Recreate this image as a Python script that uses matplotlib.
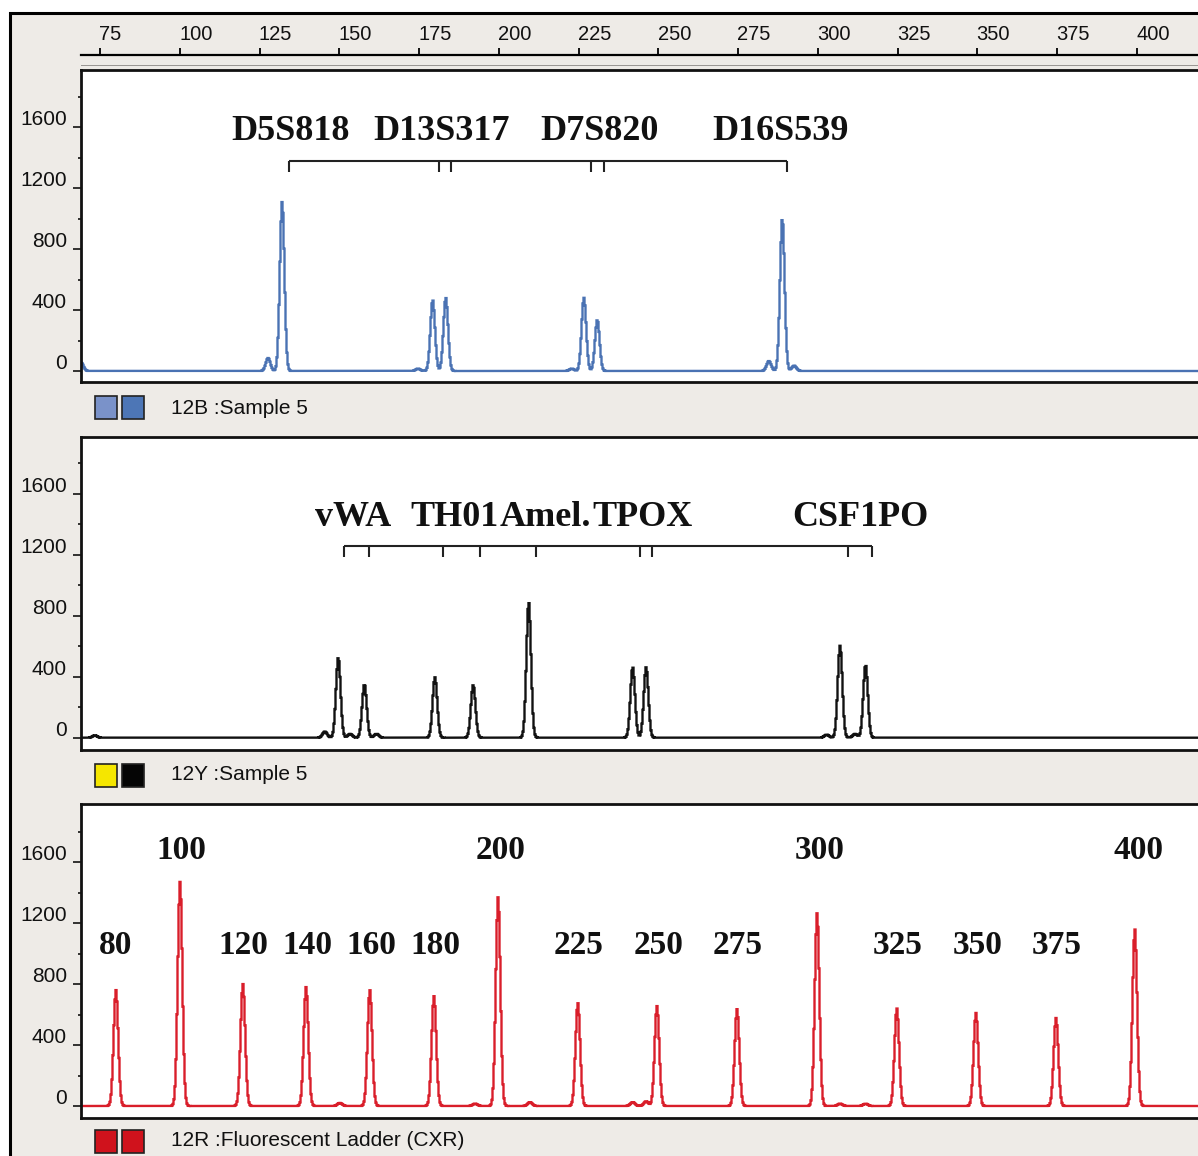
import numpy as np
import matplotlib
matplotlib.use("Agg")
import matplotlib.pyplot as plt
from matplotlib.patches import Rectangle
from matplotlib.transforms import offset_copy

# ---------------- data ----------------
ruler_ticks = [75, 100, 125, 150, 175, 200, 225, 250, 275, 300, 325, 350, 375, 400]
rfu_major = [0, 400, 800, 1200, 1600]
rfu_minor = [200, 600, 1000, 1400, 1800]

# panel 1 (blue, 12B : Sample 5) peaks: size (bp) and height (RFU)
blue_bp = [69.1, 127.7, 132.1, 174.7, 179.3, 183.4, 222.9, 226.7, 230.9, 284.7, 288.9, 292.6]
blue_h = [55, 85, 1110, 15, 465, 480, 15, 480, 335, 65, 1000, 35]

# panel 2 (black, 12Y : Sample 5)
black_bp = [73.4, 145.5, 149.7, 153.4, 157.9, 161.7, 180.0, 192.0, 209.4, 242.0, 246.2,
            302.8, 307.0, 311.7, 315.0]
black_h = [15, 40, 525, 25, 350, 25, 396, 345, 888, 462, 462, 20, 603, 25, 477]

# panel 3 (red, ladder)
red_bp = [80.0, 100.1, 119.8, 139.6, 150.2, 159.6, 179.7, 192.6, 199.8, 209.8, 224.8,
          242.0, 246.2, 249.6, 274.7, 299.8, 307.0, 315.0, 324.8, 349.6, 374.7, 399.4]
red_h = [760, 1470, 800, 780, 20, 760, 720, 15, 1370, 25, 675,
         25, 30, 655, 635, 1265, 15, 15, 640, 610, 577, 1160]

# locus labels and allele-range brackets
loci_blue = ["D5S818", "D13S317", "D7S820", "D16S539"]
loci_blue_x = [134.6, 182.2, 231.7, 288.2]
bracket_blue = [134.2, 181.2, 185.0, 228.9, 232.9, 290.5]

loci_black = ["vWA", "TH01", "Amel.", "TPOX", "CSF1PO"]
loci_black_x = [154.5, 186.1, 214.5, 245.0, 313.4]
bracket_black = [151.4, 159.2, 182.4, 194.2, 211.8, 244.2, 248.1, 309.5, 316.9]

ladder_upper = [100, 200, 300, 400]
ladder_lower = [80, 120, 140, 160, 180, 225, 250, 275, 325, 350, 375]

strip_texts = ["12B :Sample 5", "12Y :Sample 5", "12R :Fluorescent Ladder (CXR)"]
trace_colors = ["#4a72b3", "#111111", "#d91e2a"]
square_colors = [("#7a92c9", "#4d76b6"), ("#f5e600", "#050505"), ("#d0121c", "#d0121c")]

# ---------------- layout ----------------
W, H, DPI = 1198, 1156, 100
fig = plt.figure(figsize=(W / DPI, H / DPI), dpi=DPI)
fig.patch.set_facecolor("white")
BG = "#eeebe7"
SANS = ["Liberation Sans", "DejaVu Sans"]
SERIF = ["Liberation Serif", "DejaVu Serif"]


def rect(l, t, r, b):
    return [l / W, 1 - b / H, (r - l) / W, (b - t) / H]


def bp_of(px):
    return 75 + (px - 100) / 3.19


K = 400 / 61.0  # RFU per pixel

# outer frame
fig.add_artist(Rectangle((9.5 / W, -20 / H), (W + 20) / W, (H + 20 - 12.5) / H,
                         transform=fig.transFigure, facecolor=BG, edgecolor="black",
                         lw=2.2, zorder=0))
# thin grey line under the ruler
fig.add_artist(Rectangle((81 / W, 1 - 66 / H), (W - 81) / W, 1.2 / H,
                         transform=fig.transFigure, facecolor="#9a9794", edgecolor="none"))

xlim = (bp_of(81), bp_of(1198))

# ruler
axr = fig.add_axes(rect(81, 48, 1198, 55))
axr.set_xlim(*xlim)
axr.set_ylim(0, 1)
axr.patch.set_alpha(0)
for s in ["left", "right", "top"]:
    axr.spines[s].set_visible(False)
axr.spines["bottom"].set_linewidth(1.6)
axr.set_yticks([])
axr.set_xticks(ruler_ticks)
axr.tick_params(axis="x", direction="in", length=5, width=1.3, labelbottom=False)
for v in ruler_ticks:
    axr.text(v - 0.2, 15 / 7, str(v), transform=axr.get_xaxis_transform(), ha="left",
             va="baseline", fontsize=14.5, family=SANS, color="#111111")

panels = [(70, 382, 371, 408), (437, 750, 737.7, 775), (804, 1117.5, 1106, 1141)]
series = [(blue_bp, blue_h), (black_bp, black_h), (red_bp, red_h)]

x = np.arange(xlim[0], xlim[1] + 0.5, 1 / 3.19)
sigma = 0.72

axes = []
for i, (top, bot, base, strip_y) in enumerate(panels):
    ax = fig.add_axes(rect(81, top, 1198, bot))
    axes.append(ax)
    ax.set_facecolor("white")
    ax.set_xlim(*xlim)
    ax.set_ylim(-(bot - base) * K, (base - top) * K)
    pos, hts = series[i]
    y = np.zeros_like(x)
    for p, h in zip(pos, hts):
        y += h * np.exp(-0.5 * ((x - p) / sigma) ** 2)
    ax.plot(x, y, color=trace_colors[i], lw=1.7, drawstyle="steps-mid",
            solid_joinstyle="miter")
    ax.spines["right"].set_visible(False)
    for s in ["left", "top", "bottom"]:
        ax.spines[s].set_linewidth(2.0)
        ax.spines[s].set_color("#111111")
    ax.set_xticks([])
    ax.set_yticks(rfu_major)
    ax.set_yticks(rfu_minor, minor=True)
    ax.tick_params(axis="y", which="major", direction="out", length=5.5, width=1.1,
                   labelleft=False)
    ax.tick_params(axis="y", which="minor", direction="out", length=2.5, width=1.1)
    tr = offset_copy(ax.get_yaxis_transform(), fig=fig, x=-14, y=2, units="dots")
    for v in rfu_major:
        ax.text(0, v, str(v), transform=tr, ha="right", va="baseline", fontsize=15,
                family=SANS, color="#111111", clip_on=False)

    # strip: colour squares + caption
    c1, c2 = square_colors[i]
    for xl, c in [(95, c1), (122, c2)]:
        fig.add_artist(Rectangle((xl / W, 1 - (strip_y + 11.5) / H), 22 / W, 23 / H,
                                 transform=fig.transFigure, facecolor=c,
                                 edgecolor="#222222", lw=1.2))
    fig.text(171 / W, 1 - strip_y / H, strip_texts[i], ha="left", va="center",
             fontsize=15, family=SANS, color="#111111")


def brackets(ax, xs, y_line, y_tick):
    ax.plot([xs[0], xs[-1]], [y_line, y_line], color="#222222", lw=1.5,
            solid_capstyle="butt")
    for v in xs:
        ax.plot([v, v], [y_line, y_tick], color="#222222", lw=1.5, solid_capstyle="butt")


ax1, ax2, ax3 = axes
for name, xv in zip(loci_blue, loci_blue_x):
    ax1.text(xv, (371 - 131) * K, name, ha="center", va="center", fontsize=26,
             fontweight="bold", family=SERIF, color="#111111")
brackets(ax1, bracket_blue, (371 - 161) * K, (371 - 172) * K)

for name, xv in zip(loci_black, loci_black_x):
    ax2.text(xv, (737.7 - 518) * K, name, ha="center", va="center", fontsize=26,
             fontweight="bold", family=SERIF, color="#111111")
brackets(ax2, bracket_black, (737.7 - 546) * K, (737.7 - 557) * K)

for v in ladder_upper:
    ax3.text(v + 0.5, (1106 - 851) * K, str(v), ha="center", va="center", fontsize=24,
             fontweight="bold", family=SERIF, color="#111111")
for v in ladder_lower:
    ax3.text(v, (1106 - 945) * K, str(v), ha="center", va="center", fontsize=24,
             fontweight="bold", family=SERIF, color="#111111")

fig.savefig("out.png", dpi=DPI, facecolor=fig.get_facecolor())
